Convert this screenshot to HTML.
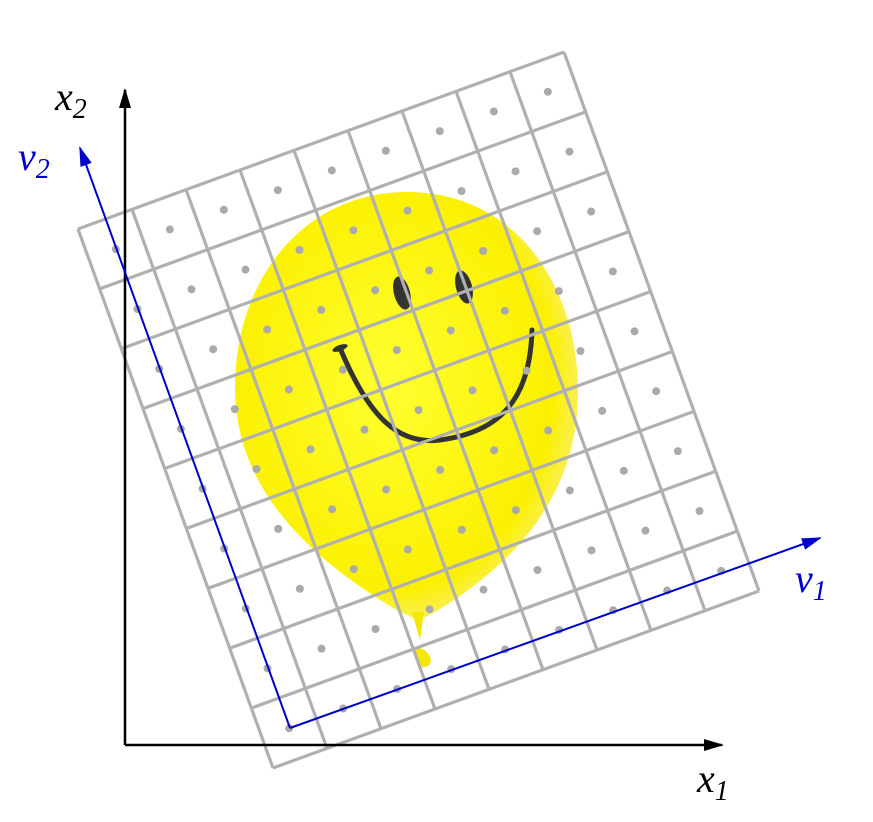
<!DOCTYPE html>
<html><head><meta charset="utf-8"><style>
html,body{margin:0;padding:0;background:#fff;}
svg{display:block;}
text{font-family:"Liberation Serif",serif;font-style:italic;}
</style></head><body>
<svg id="chart" width="873" height="822" viewBox="0 0 873 822" xmlns="http://www.w3.org/2000/svg">
<defs>
<radialGradient id="bg" cx="0.45" cy="0.45" r="0.6">
<stop offset="0" stop-color="#ffff30"/><stop offset="0.8" stop-color="#fbf000"/><stop offset="1" stop-color="#f7e94a" stop-opacity="0.7"/>
</radialGradient>
<marker id="ak" markerWidth="20" markerHeight="12" refX="18" refY="6" orient="auto" markerUnits="userSpaceOnUse"><path d="M0,0 L20,6 L0,12 Z" fill="#000"/></marker>
<marker id="ab" markerWidth="20" markerHeight="12" refX="18" refY="6" orient="auto" markerUnits="userSpaceOnUse"><path d="M0,0 L20,6 L0,12 Z" fill="#0000cc"/></marker>
</defs>
<g>
<path d="M407,192 C515,192 578,285 578,392 C578,495 515,565 430,615 L418,620 L400,612 C320,565 235,495 235,388 C235,278 305,192 407,192 Z" fill="url(#bg)"/>
<path d="M412,612 L424,612 L420,640 Z M418,648 C426,648 436,660 428,666 L420,668 C414,660 412,650 418,648Z" fill="#f5e800"/>
<ellipse cx="402" cy="293" rx="8" ry="17" transform="rotate(-15 402 293)" fill="#333"/>
<ellipse cx="464" cy="287" rx="8" ry="17" transform="rotate(-15 464 287)" fill="#333"/>
<path d="M340,348 C370,420 400,445 440,440 C500,432 530,400 532,330" fill="none" stroke="#333" stroke-width="5" stroke-linecap="round"/>
<ellipse cx="340" cy="348" rx="8" ry="3" transform="rotate(-20 340 348)" fill="#333"/>
</g>
<g id="grid"></g>
<g>
<line x1="125" y1="745" x2="722" y2="745" stroke="#000" stroke-width="2.5" marker-end="url(#ak)"/>
<line x1="125" y1="745" x2="125" y2="90" stroke="#000" stroke-width="2.5" marker-end="url(#ak)"/>
<text x="697" y="792" font-size="40">x<tspan font-size="28" dy="8">1</tspan></text>
<text x="55" y="110" font-size="40">x<tspan font-size="28" dy="8">2</tspan></text>
</g>
<g>
<line x1="290" y1="728" x2="820" y2="538" stroke="#0000cc" stroke-width="2" marker-end="url(#ab)"/>
<line x1="290" y1="728" x2="80" y2="148" stroke="#0000cc" stroke-width="2" marker-end="url(#ab)"/>
<text x="795" y="592" font-size="40" fill="#0000cc">v<tspan font-size="28" dy="8">1</tspan></text>
<text x="18" y="170" font-size="40" fill="#0000cc">v<tspan font-size="28" dy="8">2</tspan></text>
</g>
</svg>
<script>
var cols = 9;
var rows = 9;
var origin = [273, 768];
var uVec = [(759-273)/9, (591-768)/9];
var vVec = [(78-273)/9, (229-768)/9];
var gridG = document.getElementById('grid');
var NS = 'http://www.w3.org/2000/svg';
function P(i,j){return [origin[0]+i*uVec[0]+j*vVec[0], origin[1]+i*uVec[1]+j*vVec[1]];}
for(var i=0;i<=cols;i++){
  var a=P(i,0),b=P(i,rows);
  var l=document.createElementNS(NS,'line');
  
  
  l.setAttribute('x1',a[0]);l.setAttribute('y1',a[1]);l.setAttribute('x2',b[0]);l.setAttribute('y2',b[1]);
  l.setAttribute('stroke','#b0b0b0');l.setAttribute('stroke-width','3.2');
  gridG.appendChild(l);
}
for(var j=0;j<=rows;j++){
  var a2=P(0,j),b2=P(cols,j);
  var l2=document.createElementNS(NS,'line');
  
  
  l2.setAttribute('x1',a2[0]);l2.setAttribute('y1',a2[1]);l2.setAttribute('x2',b2[0]);l2.setAttribute('y2',b2[1]);
  l2.setAttribute('stroke','#b0b0b0');l2.setAttribute('stroke-width','3.2');
  gridG.appendChild(l2);
}
for(var ii=0;ii<cols;ii++)for(var jj=0;jj<rows;jj++){
  var c=P(ii+0.5,jj+0.5);
  var d=document.createElementNS(NS,'circle');
  
  
  d.setAttribute('cx',c[0]);d.setAttribute('cy',c[1]);d.setAttribute('r','4');d.setAttribute('fill','#aaa');
  gridG.appendChild(d);
}
</script>
</body></html>
